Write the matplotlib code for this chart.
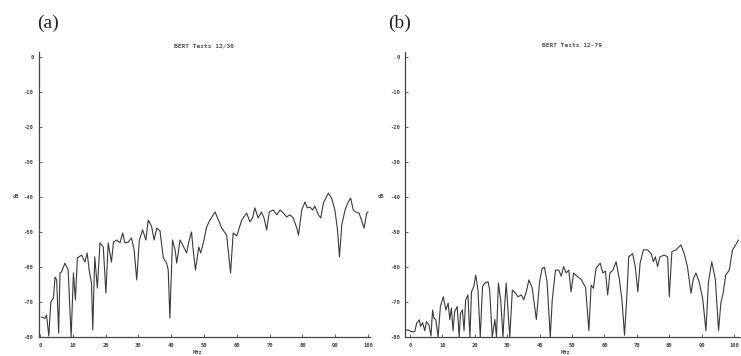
import matplotlib
matplotlib.use("Agg")
import matplotlib.pyplot as plt

# === DATA ===
y_ticks = [0, -10, -20, -30, -40, -50, -60, -70, -80]
x_ticks = [0, 10, 20, 30, 40, 50, 60, 70, 80, 90, 100]
titles = ["BERT Tests 12/36", "BERT Tests 12-79"]
panel_tags = ["(a)", "(b)"]

freq_a = [0.5, 1.5, 2.0, 2.7, 3.3, 4.1, 4.6, 5.1, 5.7, 6.1,
          6.6, 7.6, 8.6, 9.5, 10.2, 10.8, 11.4, 12.7, 13.7, 14.4,
          15.0, 15.7, 16.1, 16.7, 17.5, 18.3, 19.3, 20.1, 20.8, 21.8,
          22.4, 23.4, 24.4, 25.2, 25.9, 26.9, 27.9, 28.7, 29.5, 30.3,
          31.3, 32.3, 33.0, 34.0, 34.8, 35.6, 36.6, 37.6, 38.6, 39.1,
          39.6, 40.4, 41.2, 41.7, 42.7, 43.5, 44.7, 45.5, 46.2, 46.7,
          47.4, 48.4, 49.0, 49.8, 50.8, 51.8, 53.4, 54.4, 55.4, 56.9,
          58.1, 58.9, 60.0, 61.5, 63.0, 64.0, 64.8, 65.5, 66.5, 67.5,
          68.3, 69.1, 69.9, 71.1, 72.2, 73.2, 74.2, 75.2, 76.2, 77.2,
          78.3, 78.8, 79.8, 80.8, 81.5, 82.3, 83.1, 83.8, 84.9, 85.6,
          86.4, 87.9, 88.9, 89.9, 90.7, 91.3, 92.0, 93.0, 94.0, 94.7,
          95.5, 96.3, 97.3, 98.0, 98.8, 99.6, 100.0]
db_a = [-74.3, -74.7, -73.7, -79.7, -70.0, -68.9, -62.9, -63.7, -78.9, -61.7,
        -61.4, -58.9, -60.9, -80.0, -61.7, -69.4, -57.4, -56.6, -58.6, -56.0,
        -60.9, -64.6, -78.0, -57.1, -66.0, -53.1, -54.3, -67.4, -53.1, -58.6,
        -52.9, -52.3, -53.1, -50.3, -53.1, -52.9, -51.7, -55.1, -63.7, -52.3,
        -49.4, -52.3, -46.6, -48.3, -52.3, -48.9, -49.7, -57.4, -58.9, -60.9,
        -74.6, -52.3, -55.1, -58.9, -52.3, -53.7, -56.0, -52.3, -50.0, -55.1,
        -60.9, -54.3, -56.0, -53.1, -48.6, -46.6, -44.3, -46.6, -48.9, -50.9,
        -61.7, -50.3, -51.1, -46.6, -44.6, -47.1, -46.0, -43.1, -46.0, -44.3,
        -46.0, -49.4, -44.3, -43.7, -45.1, -43.7, -44.6, -45.7, -45.1, -46.0,
        -48.9, -50.9, -43.7, -41.4, -43.1, -42.9, -43.7, -42.6, -45.1, -46.0,
        -41.7, -38.9, -40.3, -43.7, -49.4, -57.1, -48.0, -43.7, -41.4, -40.3,
        -43.7, -44.3, -44.6, -46.6, -48.9, -44.6, -44.3]

freq_b = [-1.0, -0.5, 0.5, 1.5, 2.1, 2.9, 3.3, 3.9, 4.6, 5.1,
          5.9, 6.5, 7.0, 7.4, 8.0, 8.7, 9.4, 10.3, 11.1, 11.8,
          12.3, 12.8, 13.3, 13.8, 14.6, 15.2, 15.6, 16.2, 16.7, 17.2,
          17.9, 18.5, 19.0, 19.7, 20.3, 21.0, 21.7, 22.4, 23.1, 24.1,
          24.6, 25.4, 26.2, 26.7, 27.3, 28.0, 28.7, 29.2, 29.7, 30.8,
          31.6, 32.6, 33.3, 34.4, 35.1, 35.9, 36.7, 37.7, 39.0, 40.0,
          40.8, 41.5, 42.3, 43.3, 43.9, 44.9, 45.9, 46.7, 47.4, 48.2,
          49.0, 49.7, 50.5, 51.5, 52.8, 54.2, 55.2, 55.9, 56.6, 57.4,
          58.7, 59.5, 60.3, 61.0, 61.7, 62.6, 63.6, 64.6, 65.4, 66.2,
          66.9, 67.5, 68.7, 69.5, 70.3, 71.0, 72.0, 73.3, 74.4, 75.1,
          75.7, 76.4, 77.1, 78.5, 79.5, 80.0, 80.8, 82.1, 83.6, 84.6,
          85.6, 86.7, 87.4, 88.2, 89.2, 90.3, 91.3, 92.1, 93.1, 94.2,
          95.2, 95.9, 96.6, 97.4, 98.5, 99.5, 100.5, 101.3]
db_b = [-78.0, -78.0, -78.5, -78.5, -76.0, -75.1, -77.0, -75.9, -78.2, -75.6,
        -76.6, -79.7, -72.3, -74.6, -75.1, -80.0, -71.3, -68.5, -72.3, -70.3,
        -75.0, -71.7, -78.2, -72.8, -71.3, -80.0, -73.2, -72.3, -78.2, -69.4,
        -68.0, -80.0, -67.1, -65.6, -62.3, -66.6, -80.0, -65.6, -64.6, -64.2,
        -66.6, -80.0, -75.0, -80.0, -64.6, -69.4, -80.0, -71.3, -64.6, -80.0,
        -66.6, -67.5, -68.5, -68.0, -69.4, -67.1, -63.7, -65.9, -75.0, -64.2,
        -60.4, -60.1, -64.2, -80.0, -69.4, -60.9, -60.9, -62.6, -59.9, -61.7,
        -60.9, -67.1, -61.7, -62.6, -63.5, -65.9, -78.2, -65.2, -66.1, -60.4,
        -58.9, -61.7, -61.2, -68.0, -61.7, -60.9, -58.5, -63.5, -69.4, -79.5,
        -68.5, -57.1, -56.2, -59.9, -67.1, -58.9, -55.1, -55.1, -56.2, -58.5,
        -57.1, -59.9, -57.1, -56.6, -57.1, -68.5, -55.6, -55.1, -53.7, -56.2,
        -59.9, -67.5, -63.5, -61.7, -64.2, -69.0, -78.2, -64.2, -58.5, -63.5,
        -78.2, -70.3, -67.5, -62.3, -60.9, -55.1, -53.7, -52.3]

# === FIGURE ===
fig = plt.figure(figsize=(7.41, 3.56), dpi=100)
txt_col = "#555555"
tick_font = dict(family="DejaVu Sans Mono", fontsize=4, fontweight="bold", color=txt_col)

panels = [
    (0.0526, 0.4467, (-0.3, 100.6), freq_a, db_a, 13, 48),
    (0.5466, 0.4520, (-1.5, 101.8), freq_b, db_b, 378, 47),
]

for i, (left, width, xl, fx, fy, db_x, title_y) in enumerate(panels):
    ax = fig.add_axes([left, 0.0534, width, 0.8006])
    ax.plot(fx, fy, color="#3a3a3a", linewidth=0.8)
    ax.set_xlim(*xl)
    ax.set_ylim(-80, 1.43)
    for s in ("top", "right"):
        ax.spines[s].set_visible(False)
    for s in ("left", "bottom"):
        ax.spines[s].set_color("#444444")
        ax.spines[s].set_linewidth(0.9)
    ax.set_yticks(y_ticks)
    ax.set_yticklabels([str(v) for v in y_ticks], **tick_font)
    ax.set_xticks(x_ticks)
    ax.set_xticklabels([str(v) for v in x_ticks], **tick_font)
    ax.tick_params(direction="in", length=2, width=0.6, colors="#444444", pad=4)
    ax.set_title(titles[i], fontsize=4.5, family="DejaVu Sans Mono",
                 fontweight="bold", color=txt_col, pad=0, y=1.0)
    ax.title.set_position((0.5, 1.0))
    # titles sit a bit above the top of the axis line
    ax.title.set_y(1.0 + (52 - title_y) / 285.0)
    # dB label to the left of the -40 tick, MHz under the axis
    fig.text(db_x / 741, 1 - 196 / 356, "dB", fontsize=4, family="DejaVu Sans Mono",
             fontweight="bold", color=txt_col, ha="left", va="center")
    fig.text(left + width * 0.48, 1 - 353 / 356, "MHz", fontsize=4,
             family="DejaVu Sans Mono", fontweight="bold", color=txt_col,
             ha="center", va="center")

fig.text(48 / 741, 1 - 23 / 356, panel_tags[0], fontsize=14, family="Liberation Serif",
         ha="center", va="center", color="#222222")
fig.text(400 / 741, 1 - 23 / 356, panel_tags[1], fontsize=14, family="Liberation Serif",
         ha="center", va="center", color="#222222")

fig.savefig("out.png", dpi=100, facecolor="white")
